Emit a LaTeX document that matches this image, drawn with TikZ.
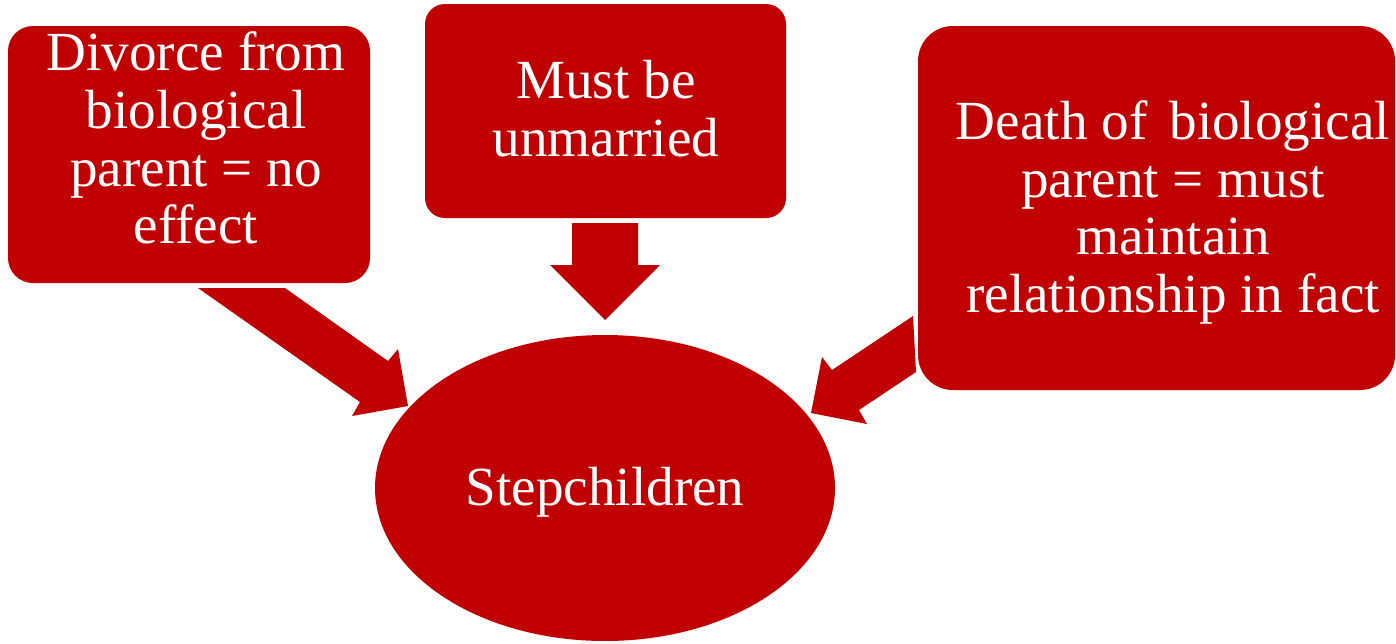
\documentclass[tikz,border=0pt]{standalone}
\usepackage{fontspec}
\setmainfont{Liberation Serif}
\usetikzlibrary{shapes.geometric}
\definecolor{boxred}{RGB}{192,0,0}
\begin{document}
\begin{tikzpicture}[x=0.02cm,y=-0.02cm,
  box/.style={fill=boxred,draw=none,inner sep=0pt},
  lbl/.style={text=white,align=center,inner sep=0pt,font=\fontsize{31.4}{32.9}\selectfont},
  blockarrow/.style={fill=boxred,draw=none}]
\useasboundingbox (0,0) rectangle (1396,643);
% boxes
\node[box,rectangle,rounded corners=0.5cm,minimum width=362*0.02cm,minimum height=257*0.02cm] (A) at (189,154.5) {};
\node[box,rectangle,rounded corners=0.4cm,minimum width=361*0.02cm,minimum height=214*0.02cm] (B) at (605.5,111) {};
\node[box,rectangle,rounded corners=0.7cm,minimum width=477*0.02cm,minimum height=364*0.02cm] (C) at (1156.5,208) {};
\node[box,ellipse,minimum width=460*0.02cm,minimum height=306*0.02cm] (S) at (605,488) {};
% labels
\node[lbl] (tA) at (196,138) {Divorce from\\biological\\parent = no\\effect};
\node[lbl] (tB) at (606,109) {Must be\\unmarried};
\node[lbl] (tC) at (1173,212.5) {Death of\ \hspace{0.15em}biological\\parent = must\\maintain\\relationship in fact};
\node[lbl] (tS) at (605,492.5) {Stepchildren};
% block arrows
\coordinate (a1) at (198,288); \coordinate (a2) at (285,288);
\coordinate (a3) at (388,361); \coordinate (a4) at (398,349);
\coordinate (a5) at (408,406); \coordinate (a6) at (352,416);
\coordinate (a7) at (360,402);
\fill[blockarrow] (a1) -- (a2) -- (a3) -- (a4) -- (a5) -- (a6) -- (a7) -- cycle;
\coordinate (b1) at (572,223); \coordinate (b2) at (638,223);
\coordinate (b3) at (638,265); \coordinate (b4) at (660,265);
\coordinate (b5) at (605,320); \coordinate (b6) at (550,265);
\coordinate (b7) at (572,265);
\fill[blockarrow] (b1) -- (b2) -- (b3) -- (b4) -- (b5) -- (b6) -- (b7) -- cycle;
\coordinate (c1) at (913,316); \coordinate (c2) at (916,372);
\coordinate (c3) at (859,410); \coordinate (c4) at (867,424);
\coordinate (c5) at (811,413); \coordinate (c6) at (822,357);
\coordinate (c7) at (832,370);
\fill[blockarrow] (c1) -- (c2) -- (c3) -- (c4) -- (c5) -- (c6) -- (c7) -- cycle;
\end{tikzpicture}
\end{document}
